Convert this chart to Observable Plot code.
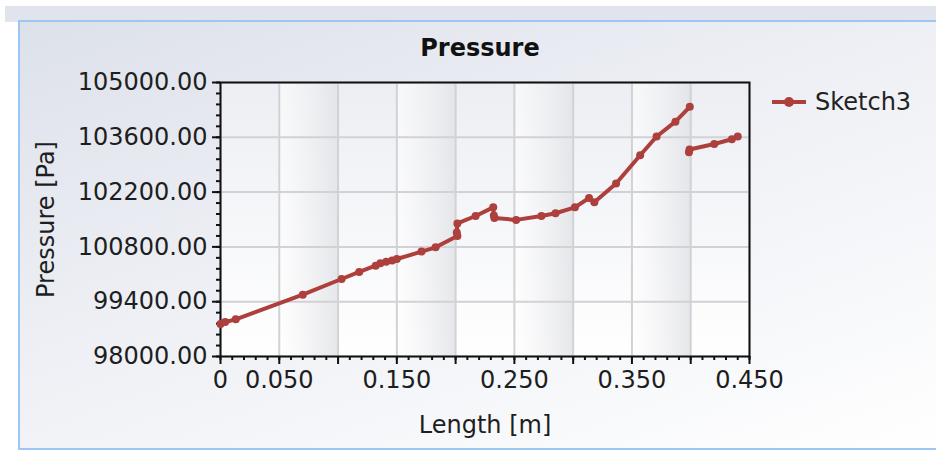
<!DOCTYPE html>
<html>
<head>
<meta charset="utf-8">
<script src="https://cdn.jsdelivr.net/npm/d3@7"></script>
<script src="https://cdn.jsdelivr.net/npm/@observablehq/plot@0.6"></script>
<style>
  html, body { margin: 0; padding: 0; background: #ffffff; }
  #page { position: relative; width: 936px; height: 450px; overflow: hidden; font-family: "DejaVu Sans", sans-serif; }
  #topband { position: absolute; left: 5px; top: 6px; width: 940px; height: 16px; background: #e1e4ec; }
  #frame { position: absolute; left: 18px; top: 20px; width: 940px; height: 426px; border: 2px solid #9cc6f3;
           background: linear-gradient(160deg, #dde1ea 0%, #eef0f5 45%, #ffffff 100%); }
  #title { position: absolute; left: 380px; width: 200px; top: 34px; text-align: center; font-weight: bold; font-size: 24px; line-height: 28px; color: #111; }
  #legend { position: absolute; left: 772px; top: 88px; height: 28px; display: flex; align-items: center; font-size: 24px; color: #222; }
  #legend .sw { position: relative; width: 34px; height: 28px; margin-right: 9px; }
  #legend .sw .ln { position: absolute; left: 0; top: 12px; width: 34px; height: 4px; background: #ad3f3c; }
  #legend .sw .dt { position: absolute; left: 12px; top: 9px; width: 10px; height: 10px; border-radius: 5px; background: #ad3f3c; }
  #chart { position: absolute; left: 0; top: 60px; }
</style>
</head>
<body>
<div id="page">
  <div id="topband"></div>
  <div id="frame"></div>
  <div id="title">Pressure</div>
  <div id="legend"><div class="sw"><div class="ln"></div><div class="dt"></div></div><span>Sketch3</span></div>
  <div id="chart"></div>
</div>
<script>
// ---- data ----
const seriesName = "Sketch3";
const lengths = [0, 0.004, 0.013, 0.070, 0.103, 0.118, 0.132, 0.136, 0.141, 0.146, 0.150, 0.171, 0.183,
  0.2015, 0.201, 0.2015, 0.217, 0.232, 0.2325, 0.233, 0.2515, 0.273, 0.285, 0.3015, 0.3135, 0.318,
  0.3365, 0.357, 0.371, 0.387, 0.3992,
  0.3985, 0.399, 0.420, 0.435, 0.440];
const pressures = [98830, 98880, 98950, 99580, 99980, 100160, 100320, 100380, 100420, 100450, 100490, 100680, 100790,
  101080, 101170, 101400, 101590, 101810, 101600, 101540, 101490, 101590, 101660, 101810, 102050, 101940,
  102420, 103140, 103620, 104000, 104380,
  103220, 103290, 103430, 103550, 103620];
const segments = [0,0,0,0,0,0,0,0,0,0,0,0,0,0,0,0,0,0,0,0,0,0,0,0,0,0,0,0,0,0,0,
  1,1,1,1,1];
const xMajorTicks = [0, 0.05, 0.1, 0.15, 0.2, 0.25, 0.3, 0.35, 0.4, 0.45];
const xLabelTicks = [0, 0.05, 0.15, 0.25, 0.35, 0.45];
const xMinorTicks = d3.range(0, 46).map(i => i / 100);
const yMajorTicks = [98000, 99400, 100800, 102200, 103600, 105000];
const yMinorTicks = d3.range(0, 26).map(i => 98000 + i * 280);
const bandStarts = [0.05, 0.15, 0.25, 0.35];
const bandWidth = 0.05;

const data = lengths.map((x, i) => ({x, y: pressures[i], seg: segments[i]}));
const lineColor = "#ad3f3c";

const defs = () => {
  const d = d3.create("svg:defs");
  const bg = d.append("linearGradient").attr("id", "bgGrad").attr("x1", 0).attr("y1", 0).attr("x2", 0).attr("y2", 1);
  bg.append("stop").attr("offset", "0%").attr("stop-color", "#eceef3");
  bg.append("stop").attr("offset", "100%").attr("stop-color", "#ffffff");
  const bd = d.append("linearGradient").attr("id", "bandGrad").attr("x1", 0).attr("y1", 0).attr("x2", 1).attr("y2", 0);
  bd.append("stop").attr("offset", "0%").attr("stop-color", "#ffffff").attr("stop-opacity", 0.6);
  bd.append("stop").attr("offset", "100%").attr("stop-color", "#e2e3e7").attr("stop-opacity", 0.85);
  return d.node();
};

const chart = Plot.plot({
  width: 936,
  height: 390,
  marginLeft: 220,
  marginRight: 187,
  marginTop: 22,
  marginBottom: 94,
  style: {background: "transparent", fontFamily: "DejaVu Sans, sans-serif", fontSize: "24px", color: "#1e1e1e"},
  x: {domain: [0, 0.45]},
  y: {domain: [98000, 105000]},
  marks: [
    defs,
    Plot.frame({fill: "url(#bgGrad)", stroke: null}),
    Plot.rect(bandStarts, {x1: d => d, x2: d => d + bandWidth, y1: 98000, y2: 105000, fill: "url(#bandGrad)"}),
    Plot.gridX(xMajorTicks, {stroke: "#d2d2d5", strokeOpacity: 1, strokeWidth: 2}),
    Plot.gridY(yMajorTicks, {stroke: "#d2d2d5", strokeOpacity: 1, strokeWidth: 2}),
    Plot.axisX(xMinorTicks, {tickSize: 4, text: null, label: null, strokeWidth: 2, stroke: "#111"}),
    Plot.axisX(xMajorTicks, {tickSize: 8, text: null, label: null, strokeWidth: 2, stroke: "#111"}),
    Plot.axisX(xLabelTicks, {tickSize: 0, tickPadding: 14, tickFormat: d => d === 0 ? "0" : d.toFixed(3),
      label: "Length [m]", labelAnchor: "center", labelArrow: "none", labelOffset: 76}),
    Plot.axisY(yMinorTicks, {tickSize: 4, text: null, label: null, strokeWidth: 2, stroke: "#111"}),
    Plot.axisY(yMajorTicks, {tickSize: 8, tickPadding: 5, strokeWidth: 2, stroke: "#111", tickFormat: d => d.toFixed(2),
      label: "Pressure [Pa]", labelAnchor: "center", labelArrow: "none", labelOffset: 184}),
    Plot.frame({stroke: "#111", strokeWidth: 2}),
    Plot.line(data, {x: "x", y: "y", z: "seg", stroke: lineColor, strokeWidth: 4, strokeLinejoin: "round", curve: "linear"}),
    Plot.dot(data, {x: "x", y: "y", r: 4, fill: lineColor, stroke: "none"})
  ]
});
document.getElementById("chart").appendChild(chart);
</script>
</body>
</html>
